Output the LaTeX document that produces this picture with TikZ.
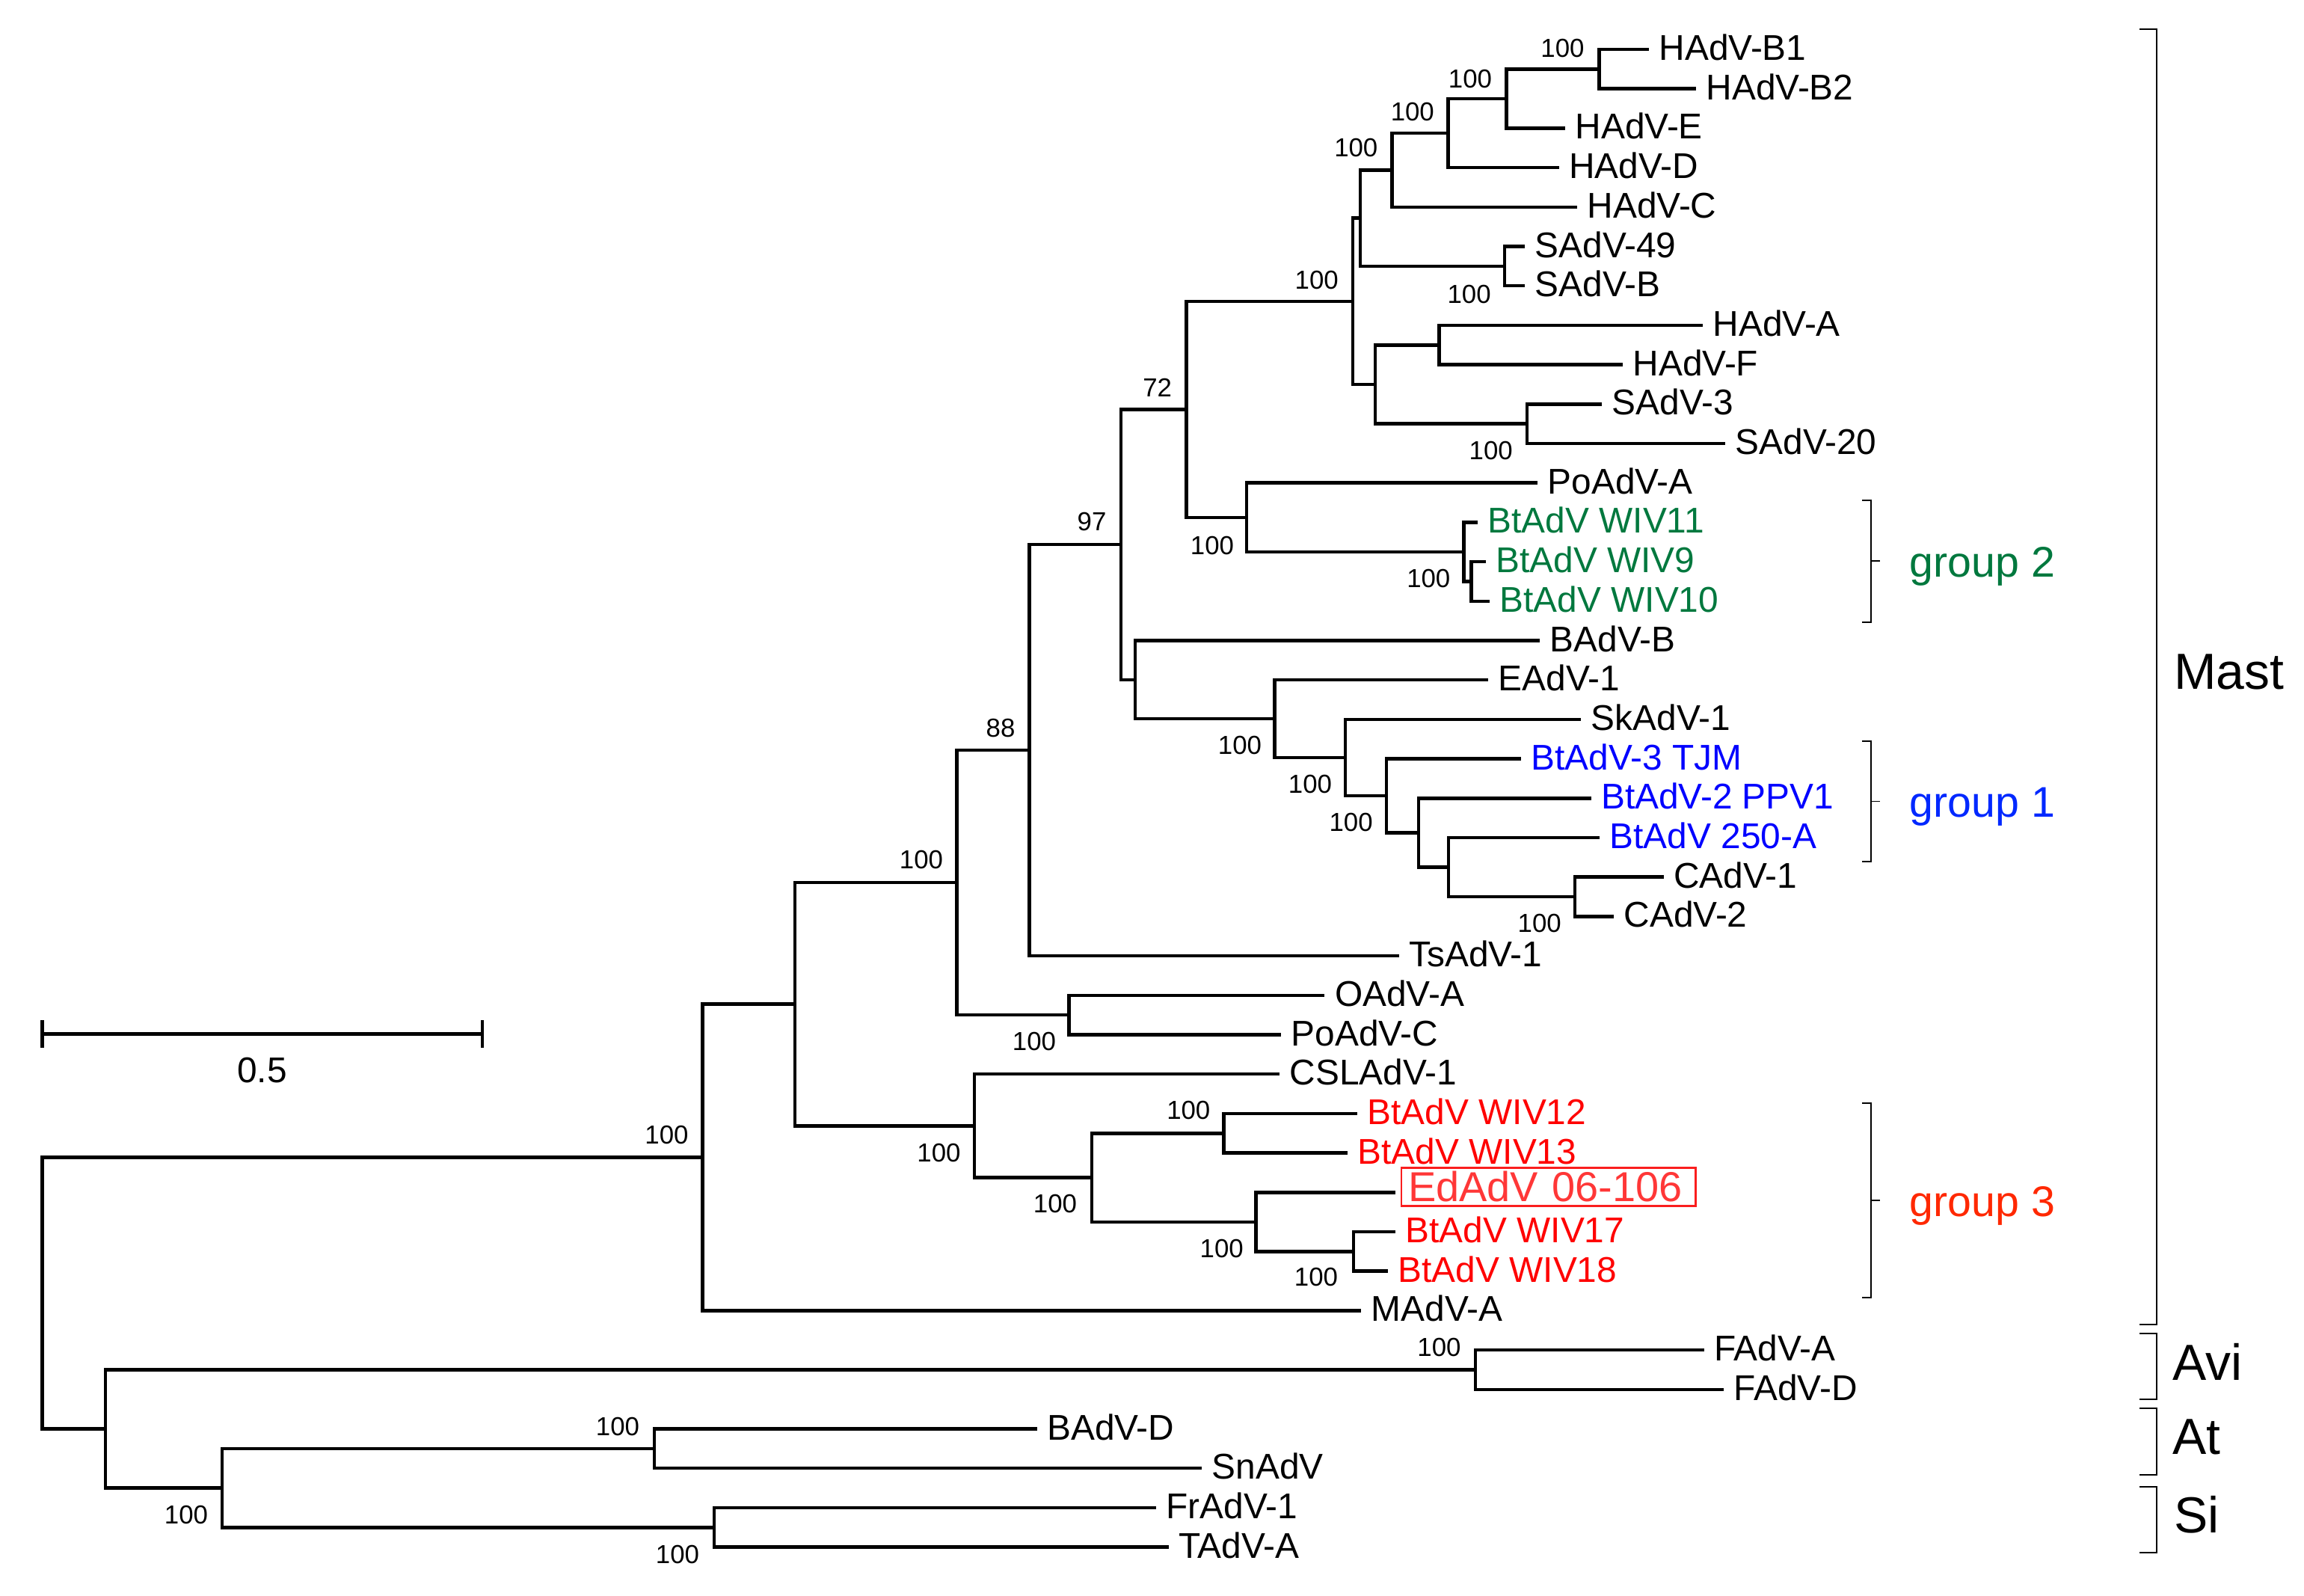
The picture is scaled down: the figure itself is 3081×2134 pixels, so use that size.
\documentclass[tikz,border=0pt]{standalone}
\usepackage{fontspec}
\setmainfont{Liberation Sans}
\definecolor{ggreen}{RGB}{0,120,62}
\definecolor{gblue}{RGB}{0,0,255}
\definecolor{gred}{RGB}{255,0,0}
\definecolor{edred}{RGB}{255,55,55}
\definecolor{edbox}{RGB}{250,30,30}
\definecolor{g1blue}{RGB}{0,40,255}
\definecolor{g3red}{RGB}{255,40,0}
\begin{document}
\begin{tikzpicture}[x=0.01cm,y=-0.01cm,
  br/.style={line width=1.3pt, line join=miter},
  lab/.style={anchor=base west, inner sep=0pt, xshift=0.13cm, yshift=-0.145cm, font=\fontsize{13.6}{16}\selectfont},
  bs/.style={inner sep=0pt, font=\fontsize{9.9}{12}\selectfont},
  brk/.style={line width=0.55pt},
  grp/.style={anchor=base west, inner sep=0pt, font=\fontsize{16.3}{19}\selectfont},
  cls/.style={anchor=base west, inner sep=0pt, font=\fontsize{19.3}{23}\selectfont}]
\useasboundingbox (0,0) rectangle (3081,2134);

% tips
\coordinate (t0) at (2205,66);
\coordinate (t1) at (2268,118.7);
\coordinate (t2) at (2093,171.4);
\coordinate (t3) at (2084.5,224.1);
\coordinate (t4) at (2109,276.8);
\coordinate (t5) at (2039,329.5);
\coordinate (t6) at (2039,382.2);
\coordinate (t7) at (2277,434.9);
\coordinate (t8) at (2170,487.6);
\coordinate (t9) at (2142,540.3);
\coordinate (t10) at (2307,593);
\coordinate (t11) at (2056,645.7);
\coordinate (t12) at (1976,698.4);
\coordinate (t13) at (1986.6,751.1);
\coordinate (t14) at (1992,803.8);
\coordinate (t15) at (2059,856.5);
\coordinate (t16) at (1990,909.2);
\coordinate (t17) at (2114,961.9);
\coordinate (t18) at (2034,1014.6);
\coordinate (t19) at (2127.5,1067.3);
\coordinate (t20) at (2139,1120);
\coordinate (t21) at (2224.5,1172.7);
\coordinate (t22) at (2158,1225.4);
\coordinate (t23) at (1870.5,1278.1);
\coordinate (t24) at (1771.4,1330.8);
\coordinate (t25) at (1713,1383.5);
\coordinate (t26) at (1711,1436.2);
\coordinate (t27) at (1815,1488.9);
\coordinate (t28) at (1802,1541.6);
\coordinate (t29) at (1866,1594.3);
\coordinate (t30) at (1866,1647);
\coordinate (t31) at (1856,1699.7);
\coordinate (t32) at (1820,1752.4);
\coordinate (t33) at (2278.6,1805.1);
\coordinate (t34) at (2305,1857.8);
\coordinate (t35) at (1386.6,1910.5);
\coordinate (t36) at (1607,1963.2);
\coordinate (t37) at (1546,2015.9);
\coordinate (t38) at (1562.5,2068.6);

% internal nodes
\coordinate (nB12) at (2138.6,92.35);
\coordinate (nBE) at (2014.4,131.9);
\coordinate (nBED) at (1936.5,178);
\coordinate (nBEDC) at (1861.4,227.4);
\coordinate (nS) at (2012,355.85);
\coordinate (nHS) at (1819,291.6);
\coordinate (nAF) at (1924.6,461.25);
\coordinate (nS320) at (2041.8,566.65);
\coordinate (nAFS) at (1839,513.95);
\coordinate (nPrim) at (1808.8,402.8);
\coordinate (nW910) at (1967.5,777.45);
\coordinate (nG2) at (1957.5,737.9);
\coordinate (nPoG2) at (1667,691.8);
\coordinate (n72) at (1586.3,547.3);
\coordinate (nCAdV) at (2106,1199.05);
\coordinate (n250) at (1937,1159.5);
\coordinate (nPPV) at (1897,1113.4);
\coordinate (nTJM) at (1854,1064);
\coordinate (nSk) at (1799,1012.95);
\coordinate (nE) at (1704.6,961.1);
\coordinate (nB) at (1518,908.8);
\coordinate (n97) at (1499,728.05);
\coordinate (n88) at (1376.3,1003.1);
\coordinate (nOP) at (1429.6,1357.15);
\coordinate (n100a) at (1279.6,1180.1);
\coordinate (nW1213) at (1636.7,1515.25);
\coordinate (nW1718) at (1810,1673.35);
\coordinate (nEd) at (1679.6,1633.8);
\coordinate (nBat) at (1460,1574.5);
\coordinate (nCSL) at (1303,1505.35);
\coordinate (n540) at (1063,1342.7);
\coordinate (nMast) at (939.5,1547.55);
\coordinate (nFAdV) at (1973,1831.45);
\coordinate (nBS) at (874.8,1936.85);
\coordinate (nFT) at (955,2042.25);
\coordinate (nAtSi) at (296.8,1989.55);
\coordinate (nAvAtSi) at (141,1910.5);
\coordinate (root) at (56.4,1729);

% branches
\foreach \p/\c in {nB12/t0,nB12/t1,nBE/nB12,nBE/t2,nBED/nBE,nBED/t3,nBEDC/nBED,nBEDC/t4,
  nS/t5,nS/t6,nHS/nBEDC,nHS/nS,nAF/t7,nAF/t8,nS320/t9,nS320/t10,nAFS/nAF,nAFS/nS320,
  nPrim/nHS,nPrim/nAFS,nW910/t13,nW910/t14,nG2/t12,nG2/nW910,nPoG2/t11,nPoG2/nG2,
  n72/nPrim,n72/nPoG2,nCAdV/t21,nCAdV/t22,n250/t20,n250/nCAdV,nPPV/t19,nPPV/n250,
  nTJM/t18,nTJM/nPPV,nSk/t17,nSk/nTJM,nE/t16,nE/nSk,nB/t15,nB/nE,n97/n72,n97/nB,
  n88/n97,n88/t23,nOP/t24,nOP/t25,n100a/n88,n100a/nOP,nW1213/t27,nW1213/t28,
  nW1718/t30,nW1718/t31,nEd/t29,nEd/nW1718,nBat/nW1213,nBat/nEd,nCSL/t26,nCSL/nBat,
  n540/n100a,n540/nCSL,nMast/n540,nMast/t32,nFAdV/t33,nFAdV/t34,nBS/t35,nBS/t36,
  nFT/t37,nFT/t38,nAtSi/nBS,nAtSi/nFT,nAvAtSi/nFAdV,nAvAtSi/nAtSi,root/nMast,root/nAvAtSi}
  \draw[br] (\p) |- (\c);

% tip labels
\node[lab] (L0) at (t0) {HAdV-B1};
\node[lab] (L1) at (t1) {HAdV-B2};
\node[lab] (L2) at (t2) {HAdV-E};
\node[lab] (L3) at (t3) {HAdV-D};
\node[lab] (L4) at (t4) {HAdV-C};
\node[lab] (L5) at (t5) {SAdV-49};
\node[lab] (L6) at (t6) {SAdV-B};
\node[lab] (L7) at (t7) {HAdV-A};
\node[lab] (L8) at (t8) {HAdV-F};
\node[lab] (L9) at (t9) {SAdV-3};
\node[lab] (L10) at (t10) {SAdV-20};
\node[lab] (L11) at (t11) {PoAdV-A};
\node[lab,text=ggreen] (L12) at (t12) {BtAdV WIV11};
\node[lab,text=ggreen] (L13) at (t13) {BtAdV WIV9};
\node[lab,text=ggreen] (L14) at (t14) {BtAdV WIV10};
\node[lab] (L15) at (t15) {BAdV-B};
\node[lab] (L16) at (t16) {EAdV-1};
\node[lab] (L17) at (t17) {SkAdV-1};
\node[lab,text=gblue] (L18) at (t18) {BtAdV-3 TJM};
\node[lab,text=gblue] (L19) at (t19) {BtAdV-2 PPV1};
\node[lab,text=gblue] (L20) at (t20) {BtAdV 250-A};
\node[lab] (L21) at (t21) {CAdV-1};
\node[lab] (L22) at (t22) {CAdV-2};
\node[lab] (L23) at (t23) {TsAdV-1};
\node[lab] (L24) at (t24) {OAdV-A};
\node[lab] (L25) at (t25) {PoAdV-C};
\node[lab] (L26) at (t26) {CSLAdV-1};
\node[lab,text=gred] (L27) at (t27) {BtAdV WIV12};
\node[lab,text=gred] (L28) at (t28) {BtAdV WIV13};
\node[anchor=base west, draw=edbox, line width=0.75pt, text=edred,
      font=\fontsize{15.9}{18}\selectfont, text width=3.75cm, align=left,
      inner xsep=0.09cm, inner ysep=0.055cm, text height=0.397cm, text depth=0cm]
      (L29) at (1872.7,1606.7) {EdAdV 06-106};
\node[lab,text=gred] (L30) at (t30) {BtAdV WIV17};
\node[lab,text=gred] (L31) at (t31) {BtAdV WIV18};
\node[lab] (L32) at (t32) {MAdV-A};
\node[lab] (L33) at (t33) {FAdV-A};
\node[lab] (L34) at (t34) {FAdV-D};
\node[lab] (L35) at (t35) {BAdV-D};
\node[lab] (L36) at (t36) {SnAdV};
\node[lab] (L37) at (t37) {FrAdV-1};
\node[lab] (L38) at (t38) {TAdV-A};

% bootstrap values
\node[bs] (b1) at (2089.5,64.3) {100};
\node[bs] (b2) at (1966,106) {100};
\node[bs] (b3) at (1888.8,149.4) {100};
\node[bs] (b4) at (1813.3,198) {100};
\node[bs] (b5) at (1760.7,374.6) {100};
\node[bs] (b6) at (1964.6,394) {100};
\node[bs] (b7) at (1547.7,518.7) {72};
\node[bs] (b8) at (1993.7,603) {100};
\node[bs] (b9) at (1460,698) {97};
\node[bs] (b10) at (1621,729.4) {100};
\node[bs] (b11) at (1910.3,774) {100};
\node[bs] (b12) at (1338,973.6) {88};
\node[bs] (b13) at (1658,997) {100};
\node[bs] (b14) at (1752,1048.6) {100};
\node[bs] (b15) at (1806.6,1100) {100};
\node[bs] (b16) at (2058.7,1234.7) {100};
\node[bs] (b17) at (1232,1150) {100};
\node[bs] (b18) at (1383,1393) {100};
\node[bs] (b19) at (891.5,1517.5) {100};
\node[bs] (b20) at (1255.5,1541.7) {100};
\node[bs] (b21) at (1589.3,1485) {100};
\node[bs] (b22) at (1411,1610) {100};
\node[bs] (b23) at (1633.7,1669.7) {100};
\node[bs] (b24) at (1760,1708) {100};
\node[bs] (b25) at (1924.5,1801.7) {100};
\node[bs] (b26) at (826,1908) {100};
\node[bs] (b27) at (249,2026) {100};
\node[bs] (b28) at (906,2079) {100};

% scale bar
\coordinate (sbL) at (56.4,1382.4);
\coordinate (sbR) at (645,1382.4);
\draw[br] (sbL) -- (sbR);
\draw[br] ([yshift=0.185cm]sbL) -- ([yshift=-0.185cm]sbL);
\draw[br] ([yshift=0.185cm]sbR) -- ([yshift=-0.185cm]sbR);
\node[anchor=base, inner sep=0pt, font=\fontsize{13.6}{16}\selectfont] (sbT) at (350.4,1447) {0.5};

% group brackets
\draw[brk] (2490,669) -- (2502,669) -- (2502,831.7) -- (2490,831.7);
\draw[brk] (2502,750.4) -- (2514,750.4);
\node[grp,text=ggreen] (G2) at (2553,771.7) {group 2};
\draw[brk] (2490,991) -- (2502,991) -- (2502,1152) -- (2490,1152);
\draw[brk] (2502,1071.5) -- (2514,1071.5);
\node[grp,text=g1blue] (G1) at (2553,1092.5) {group 1};
\draw[brk] (2490,1475) -- (2502,1475) -- (2502,1735) -- (2490,1735);
\draw[brk] (2502,1605) -- (2514,1605);
\node[grp,text=g3red] (G3) at (2553,1626) {group 3};

% class brackets
\draw[brk] (2861,39) -- (2884,39) -- (2884,1771) -- (2861,1771);
\node[cls] (CM) at (2906.7,921.7) {Mast};
\draw[brk] (2861,1783) -- (2884,1783) -- (2884,1871) -- (2861,1871);
\node[cls] (CA) at (2904.3,1845) {Avi};
\draw[brk] (2861,1883) -- (2884,1883) -- (2884,1972) -- (2861,1972);
\node[cls] (CT) at (2904.3,1944) {At};
\draw[brk] (2861,1988) -- (2884,1988) -- (2884,2076) -- (2861,2076);
\node[cls] (CS) at (2906.7,2049.3) {Si};
\end{tikzpicture}
\end{document}
